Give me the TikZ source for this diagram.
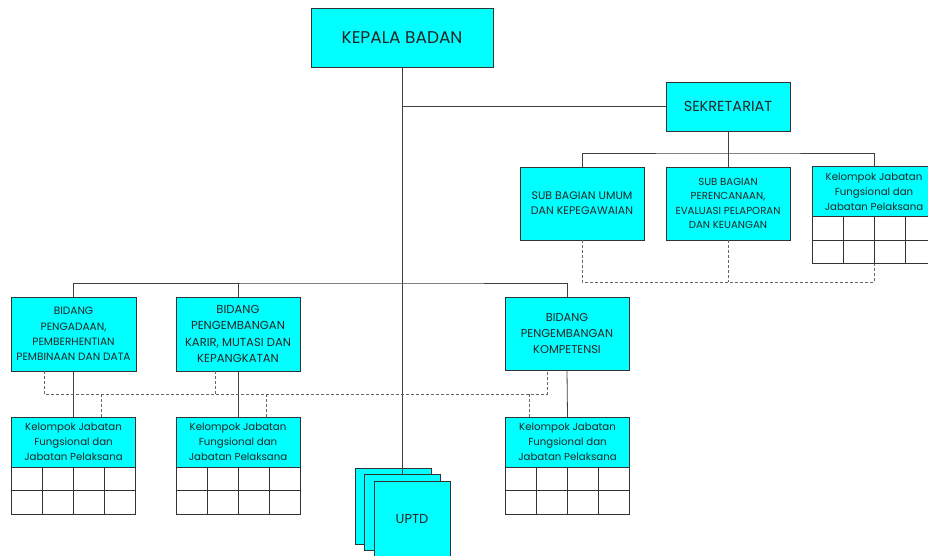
\documentclass[tikz,border=0pt]{standalone}
\usepackage{fontspec}
\setmainfont{Poppins}
\usetikzlibrary{positioning,calc}

\definecolor{boxcyan}{HTML}{00FFFF}
\definecolor{boxline}{HTML}{333333}

\tikzset{
  unit/.style={draw=boxline, fill=boxcyan, line width=0.8pt, align=center,
    inner sep=0pt, outer sep=0pt, text=black!85},
  kjbox/.style={unit, minimum width=124pt, minimum height=50pt, font=\fontsize{10.2}{14.8}\selectfont},
  tbl/.style={draw=boxline, line width=0.8pt, fill=white, inner sep=0pt, outer sep=0pt,
    minimum width=124pt, minimum height=47pt},
  link/.style={draw=black!75, line width=0.8pt},
  dlink/.style={draw=black!60, line width=0.8pt, dash pattern=on 3pt off 2pt}
}

\begin{document}
\begin{tikzpicture}[x=1pt,y=-1pt]

  \useasboundingbox (0,0) rectangle (928,555);

  % top
  \node[unit, minimum width=182pt, minimum height=59pt, font=\fontsize{17}{20}\selectfont] (kb) at (402,37.5) {KEPALA BADAN};
  \node[unit, minimum width=124pt, minimum height=49pt, font=\fontsize{14.5}{17}\selectfont] (sek) at (728,106.5) {SEKRETARIAT};

  % sekretariat units
  \node[unit, minimum width=124pt, minimum height=73pt, font=\fontsize{11}{15}\selectfont] (umum) at (582,203.5) {SUB BAGIAN UMUM\\DAN KEPEGAWAIAN};
  \node[unit, minimum width=124pt, minimum height=73pt, font=\fontsize{10.2}{14.2}\selectfont] (renc) at (728,203.5) {SUB BAGIAN\\PERENCANAAN,\\EVALUASI PELAPORAN\\DAN KEUANGAN};
  \node[kjbox] (kj4) at (874,191.5) {Kelompok Jabatan\\Fungsional dan\\Jabatan Pelaksana};

  % bidang
  \node[unit, minimum width=125pt, minimum height=74pt, font=\fontsize{10.6}{15.3}\selectfont] (bid1) at (73.5,334) {BIDANG\\PENGADAAN,\\PEMBERHENTIAN\\PEMBINAAN DAN DATA};
  \node[unit, minimum width=124pt, minimum height=74pt, font=\fontsize{11.6}{16.5}\selectfont] (bid2) at (238,334) {BIDANG\\PENGEMBANGAN\\KARIR, MUTASI DAN\\KEPANGKATAN};
  \node[unit, minimum width=124pt, minimum height=73pt, font=\fontsize{11.4}{16}\selectfont] (bid3) at (567,333.5) {BIDANG\\PENGEMBANGAN\\KOMPETENSI};

  % kelompok jabatan
  \node[kjbox] (kj1) at (73.5,442) {Kelompok Jabatan\\Fungsional dan\\Jabatan Pelaksana};
  \node[kjbox] (kj2) at (238,442) {Kelompok Jabatan\\Fungsional dan\\Jabatan Pelaksana};
  \node[kjbox] (kj3) at (567.5,442) {Kelompok Jabatan\\Fungsional dan\\Jabatan Pelaksana};

  % tables under kelompok
  \foreach \k in {kj1,kj2,kj3,kj4} {
    \node[tbl, below=0pt of \k] (\k t) {};
    \draw[boxline, line width=0.8pt] (\k t.west) -- (\k t.east);
    \foreach \i in {1,2,3}
      \draw[boxline, line width=0.8pt] ($(\k t.north west)!\i/4!(\k t.north east)$) -- ($(\k t.south west)!\i/4!(\k t.south east)$);
  }

  % UPTD
  \node[unit, minimum width=76pt, minimum height=76pt] (uptd1) at (393,506) {};
  \node[unit, minimum width=76pt, minimum height=76pt] (uptd2) at (402.5,512.5) {};
  \node[unit, minimum width=76pt, minimum height=76pt, font=\fontsize{13}{15}\selectfont] (uptd3) at (412,519) {UPTD};

  % solid lines
  \coordinate (sekbus) at (728,153);
  \coordinate (bidbus) at (402,283);
  \draw[link] (kb.south) -- (kb.south |- uptd2.north);
  \draw[link] (kb.south) |- (sek.west);
  \draw[link] (sek.south) -- (renc.north);
  \draw[link] (umum.north) |- (sekbus) -| (kj4.north);
  \draw[link] (bid1.north) |- (bidbus) -| (bid3.north);
  \draw[link] (bid2.north) -- (bid2.north |- bidbus);
  \foreach \i in {1,2,3}
    \draw[link] (bid\i.south) -- (kj\i.north);

  % dashed lines
  \coordinate (ds1) at (582,282);
  \coordinate (ds2) at (874,282);
  \draw[dlink] (umum.south) -- (ds1) -- (ds2) -- (kj4t.south);
  \draw[dlink] (renc.south) -- (renc.south |- ds1);

  \coordinate (db1) at (44,394);
  \coordinate (db2) at (215,394);
  \coordinate (db3) at (547,394);
  \coordinate (dk1) at (101,394);
  \coordinate (dk2) at (266,394);
  \coordinate (dk3) at (529,394);
  \draw[dlink] (bid1.south -| db1) -- (db1) -- (db3) -- (bid3.south -| db3);
  \draw[dlink] (bid2.south -| db2) -- (db2);
  \foreach \i in {1,2,3}
    \draw[dlink] (dk\i) -- (kj\i.north -| dk\i);

\end{tikzpicture}
\end{document}
